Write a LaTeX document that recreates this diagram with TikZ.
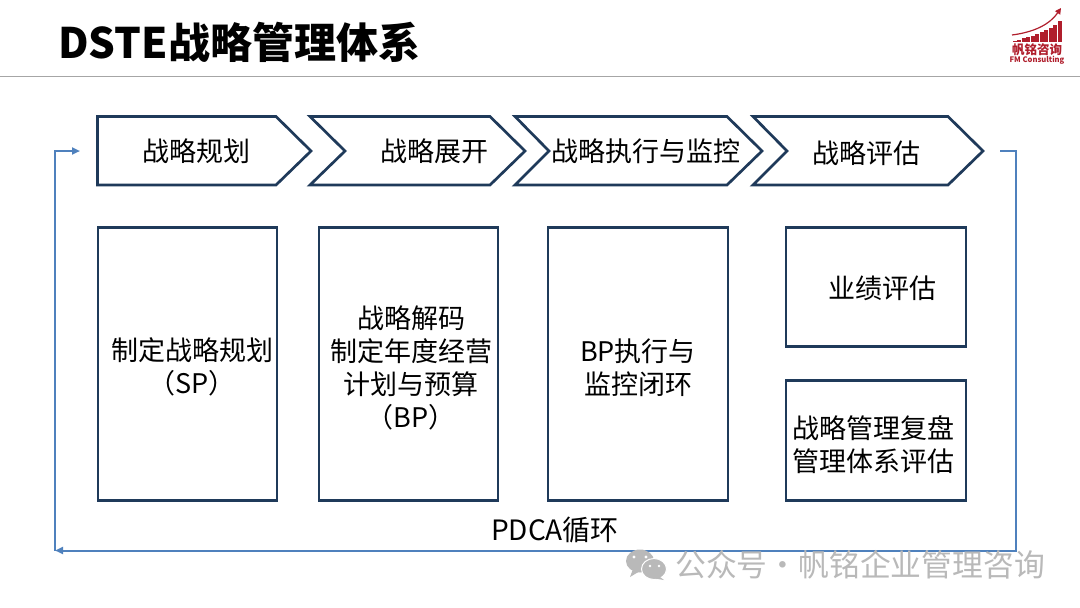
\documentclass[tikz,border=0pt]{standalone}
\usepackage{fontspec}
\setmainfont{Noto Sans CJK SC}
\usetikzlibrary{arrows.meta}
\definecolor{navy}{HTML}{1F3A5A}
\definecolor{loopblue}{HTML}{4F81BD}
\definecolor{logored}{HTML}{B01E2C}
\definecolor{wm}{HTML}{B9B9B9}
\tikzset{
  x=1pt,y=-1pt,
  shapeline/.style={draw=navy,line width=2.7pt,line join=miter,fill=white},
  boxnode/.style={shapeline,rectangle,anchor=north west,inner sep=0pt,outer sep=0pt},
  lab/.style={font=\fontsize{27}{33}\selectfont,text=black,inner sep=0pt,align=center},
  looparrow/.style={draw=loopblue,line width=2pt},
  tip/.style={-{Triangle[length=8pt,width=7pt]}},
}
\begin{document}
\begin{tikzpicture}
\useasboundingbox (0,0) rectangle (1080,608);
\fill[white] (0,0) rectangle (1080,608);
% header
\node[anchor=west,inner sep=0pt,font=\fontsize{42}{50}\selectfont\bfseries] (title) at (58,42) {DSTE战略管理体系};
\coordinate (ruleL) at (0,76.5); \coordinate (ruleR) at (1080,76.5);
\draw[color=gray!70,line width=1pt] (ruleL) -- (ruleR);
% logo
\foreach \i/\h in {0/1.5,1/2.5,2/4,3/5,4/6.5,5/8,6/10,7/12,8/14,9/17,10/21}{
  \fill[logored] (1012.5+\i*4.5,42) rectangle ++(4,-\h);
}
\draw[logored,line width=1.2pt,-{Triangle[length=6pt,width=6pt]}] (1012,35) .. controls (1035,32) and (1050,24) .. (1061,8);
\node[inner sep=0pt,text=logored,font=\fontsize{12.5}{13}\selectfont\bfseries] (logo1) at (1037,49.5) {帆铭咨询};
\node[inner sep=0pt,text=logored,font=\fontsize{7.6}{9}\selectfont\bfseries] (logo2) at (1037,60) {FM Consulting};
% chevrons
\draw[shapeline] (97.5,116.5) -- (276,116.5) -- (311,151) -- (276,185) -- (97.5,185) -- cycle;
\draw[shapeline] (310,116.5) -- (490,116.5) -- (525,151) -- (490,185) -- (310,185) -- (345,151) -- cycle;
\draw[shapeline] (515,116.5) -- (727,116.5) -- (762,151) -- (727,185) -- (515,185) -- (549,151) -- cycle;
\draw[shapeline] (753,116.5) -- (948,116.5) -- (983,151) -- (948,185) -- (753,185) -- (787,151) -- cycle;
\node[lab] (c1) at (196,151) {战略规划};
\node[lab] (c2) at (434,151) {战略展开};
\node[lab] (c3) at (646,151) {战略执行与监控};
\node[lab] (c4) at (866,153) {战略评估};
% boxes
\node[boxnode,minimum width=179pt,minimum height=273pt] (b1) at (98,227.5) {};
\node[boxnode,minimum width=179pt,minimum height=273pt] (b2) at (319,227.5) {};
\node[boxnode,minimum width=180pt,minimum height=273pt] (b3) at (548,227.5) {};
\node[boxnode,minimum width=180pt,minimum height=119pt] (b4) at (786,227.5) {};
\node[boxnode,minimum width=180pt,minimum height=120pt] (b5) at (786,380.5) {};
\node[lab] (t1) at (192,367) {制定战略规划\\（SP）};
\node[lab] (t2) at (411,368) {战略解码\\制定年度经营\\计划与预算\\（BP）};
\node[lab] (t3) at (638,368) {BP执行与\\监控闭环};
\node[lab] (t4) at (882,288) {业绩评估};
\node[lab] (t5) at (873,445) {战略管理复盘\\管理体系评估};
\node[lab,font=\fontsize{28}{33}\selectfont] (pdca) at (555,530) {PDCA循环};
% loop
\coordinate (s) at (1000,151);
\coordinate (e1) at (1016,151);
\coordinate (e2) at (1016,550.5);
\coordinate (w) at (55,550.5);
\coordinate (w2) at (55,151);
\coordinate (ae) at (80,151);
\draw[looparrow,tip] (s) -- (e1) -- (e2) -- (w);
\draw[looparrow,tip] (w) -- (w2) -- (ae);
% watermark
\fill[wm] (640,561) ellipse (14pt and 11.5pt);
\fill[wm] (633,569) -- (630,577) -- (640,571) -- cycle;
\fill[wm,draw=white,line width=1pt] (654,569) ellipse (12.5pt and 10.5pt);
\fill[wm] (660,577) -- (664,580) -- (652,578) -- cycle;
\fill[white] (634,557) circle (1.7pt) (646,557) circle (1.7pt) (650,566) circle (1.4pt) (659,566) circle (1.4pt);
\node[anchor=west,inner sep=0pt,text=wm,font=\fontsize{30.8}{32}\selectfont] (wmtext) at (675,565) {公众号·帆铭企业管理咨询};
\end{tikzpicture}
\end{document}
